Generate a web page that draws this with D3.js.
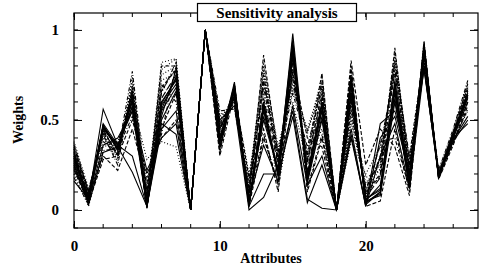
<!DOCTYPE html>
<html>
<head>
<meta charset="utf-8">
<script src="https://cdn.jsdelivr.net/npm/d3@7"></script>
<style>
  body { margin: 0; background: #fff; }
</style>
</head>
<body>
<svg id="chart" width="479" height="266"></svg>
<script>
// attribute index 0..27
const attributes = d3.range(28);

// one array per run of the sensitivity analysis
const run01 = [0.16,0.06,0.56,0.36,0.30,0.02,0.45,0.55,0.00,1.00,0.45,0.62,0.02,0.20,0.20,0.52,0.04,0.25,0.00,0.40,0.03,0.48,0.55,0.25,0.78,0.20,0.40,0.48];
const run02 = [0.25,0.03,0.32,0.35,0.21,0.02,0.48,0.42,0.00,1.00,0.50,0.58,0.00,0.07,0.25,0.55,0.06,0.01,0.00,0.45,0.02,0.40,0.52,0.20,0.80,0.18,0.38,0.50];
const run03 = [0.30,0.05,0.47,0.33,0.62,0.01,0.60,0.72,0.00,1.00,0.40,0.68,0.03,0.60,0.18,0.85,0.20,0.60,0.00,0.70,0.04,0.10,0.72,0.15,0.90,0.19,0.42,0.65];
const run04 = [0.28,0.08,0.46,0.34,0.58,0.03,0.55,0.68,0.00,1.00,0.35,0.66,0.05,0.50,0.22,0.92,0.15,0.50,0.00,0.65,0.06,0.12,0.65,0.12,0.88,0.18,0.40,0.62];
const run05 = [0.35,0.10,0.45,0.30,0.65,0.05,0.80,0.80,0.00,1.00,0.48,0.62,0.10,0.86,0.30,0.75,0.30,0.76,0.00,0.55,0.10,0.20,0.90,0.20,0.85,0.20,0.42,0.70];
const run06 = [0.38,0.12,0.40,0.28,0.72,0.08,0.82,0.84,0.00,1.00,0.52,0.58,0.15,0.80,0.35,0.70,0.45,0.70,0.00,0.50,0.15,0.25,0.86,0.25,0.82,0.21,0.44,0.68];
const run07 = [0.33,0.09,0.38,0.32,0.77,0.10,0.70,0.60,0.00,1.00,0.45,0.60,0.08,0.75,0.28,0.65,0.35,0.68,0.00,0.62,0.08,0.30,0.80,0.28,0.84,0.19,0.40,0.66];
const run08 = [0.22,0.04,0.28,0.30,0.50,0.20,0.40,0.50,0.00,1.00,0.32,0.70,0.02,0.40,0.15,0.95,0.10,0.40,0.00,0.80,0.02,0.05,0.45,0.10,0.92,0.17,0.36,0.58];
const run09 = [0.27,0.06,0.48,0.36,0.55,0.02,0.52,0.78,0.00,1.00,0.38,0.69,0.04,0.55,0.20,0.98,0.18,0.55,0.00,0.75,0.05,0.08,0.60,0.14,0.93,0.18,0.41,0.64];
const run10 = [0.20,0.02,0.35,0.38,0.60,0.28,0.38,0.35,0.00,1.00,0.42,0.64,0.20,0.65,0.12,0.60,0.25,0.45,0.00,0.38,0.20,0.35,0.75,0.22,0.80,0.20,0.39,0.55];
const run11 = [0.36,0.11,0.42,0.25,0.68,0.04,0.65,0.82,0.00,1.00,0.55,0.56,0.12,0.70,0.32,0.72,0.28,0.72,0.00,0.58,0.12,0.28,0.82,0.30,0.86,0.22,0.45,0.72];
const run12 = [0.32,0.07,0.44,0.37,0.63,0.06,0.62,0.75,0.00,1.00,0.44,0.67,0.06,0.62,0.25,0.82,0.22,0.62,0.00,0.68,0.07,0.18,0.70,0.18,0.89,0.19,0.43,0.63];
const run13 = [0.29,0.05,0.47,0.35,0.60,0.01,0.58,0.70,0.00,1.00,0.37,0.71,0.02,0.58,0.19,0.88,0.19,0.58,0.00,0.72,0.03,0.10,0.68,0.16,0.91,0.18,0.41,0.63];
const run14 = [0.24,0.07,0.30,0.22,0.45,0.15,0.45,0.65,0.00,1.00,0.30,0.65,0.18,0.45,0.10,0.80,0.40,0.35,0.00,0.83,0.25,0.45,0.35,0.08,0.87,0.20,0.37,0.60];
const run15 = [0.34,0.09,0.43,0.33,0.70,0.12,0.75,0.80,0.00,1.00,0.50,0.63,0.14,0.78,0.30,0.68,0.42,0.74,0.00,0.52,0.18,0.22,0.88,0.26,0.83,0.21,0.43,0.69];
const run16 = [0.18,0.03,0.33,0.34,0.52,0.18,0.42,0.80,0.00,1.00,0.36,0.70,0.05,0.42,0.14,0.90,0.12,0.42,0.00,0.78,0.04,0.38,0.40,0.12,0.94,0.17,0.38,0.56];
const run17 = [0.31,0.06,0.46,0.34,0.64,0.02,0.56,0.74,0.00,1.00,0.41,0.66,0.03,0.56,0.21,0.86,0.17,0.56,0.00,0.66,0.05,0.14,0.66,0.15,0.89,0.19,0.41,0.64];
const run18 = [0.37,0.10,0.41,0.27,0.74,0.07,0.78,0.84,0.00,1.00,0.53,0.57,0.16,0.82,0.33,0.66,0.44,0.66,0.00,0.48,0.14,0.26,0.84,0.24,0.81,0.22,0.44,0.71];
const run19 = [0.26,0.04,0.45,0.36,0.57,0.04,0.50,0.66,0.00,1.00,0.39,0.64,0.04,0.52,0.23,0.94,0.16,0.52,0.00,0.63,0.06,0.11,0.62,0.13,0.87,0.18,0.40,0.60];
const run20 = [0.32,0.08,0.44,0.31,0.66,0.06,0.68,0.78,0.00,1.00,0.46,0.61,0.09,0.72,0.27,0.78,0.26,0.66,0.00,0.60,0.09,0.19,0.78,0.19,0.86,0.20,0.42,0.67];
const run21 = [0.30,0.07,0.42,0.29,0.69,0.09,0.72,0.76,0.00,1.00,0.49,0.60,0.11,0.76,0.29,0.74,0.32,0.70,0.00,0.56,0.11,0.23,0.83,0.22,0.84,0.20,0.43,0.68];
const run22 = [0.29,0.06,0.47,0.34,0.61,0.02,0.59,0.73,0.00,1.00,0.38,0.68,0.03,0.59,0.20,0.90,0.18,0.59,0.00,0.73,0.04,0.09,0.70,0.14,0.92,0.18,0.41,0.64];
const run23 = [0.34,0.10,0.43,0.30,0.67,0.08,0.66,0.79,0.00,1.00,0.47,0.62,0.10,0.68,0.26,0.76,0.27,0.64,0.00,0.61,0.10,0.36,0.76,0.21,0.85,0.20,0.42,0.66];
const run24 = [0.23,0.05,0.36,0.40,0.55,0.22,0.40,0.48,0.00,1.00,0.34,0.69,0.06,0.36,0.16,0.58,0.14,0.30,0.00,0.42,0.02,0.30,0.48,0.12,0.79,0.19,0.39,0.52];

const runs = [run01, run02, run03, run04, run05, run06, run07, run08, run09, run10, run11, run12,
              run13, run14, run15, run16, run17, run18, run19, run20, run21, run22, run23, run24];
// line style for each run, same order
const dashes = ['none', 'none', 'none', 'none', '4,2', '1,2', '4,2,1,2', '4,2', 'none', '1,2', '4,2,1,2', '7,3',
                'none', '4,2', '1,2', '4,2,1,2', 'none', '1,2', 'none', '4,2', '1,2', 'none', '4,2,1,2', 'none'];

const xTicks = [0, 10, 20];
const yTicks = [0, 0.5, 1];

const FONT = '"Liberation Serif", "Times New Roman", serif';

const margin = { top: 13, right: 1, bottom: 38, left: 74 };
const W = 479, H = 266;
const width = W - margin.left - margin.right;
const height = H - margin.top - margin.bottom;

const svg = d3.select('#chart');
const g = svg.append('g').attr('transform', 'translate(' + margin.left + ',' + margin.top + ')');

const x = d3.scaleLinear().domain([0, 27.7]).range([0, width]);
const y = d3.scaleLinear().domain([-0.1, 1.094]).range([height, 0]);

// lines
const line = d3.line().x((d, i) => x(attributes[i])).y(d => y(d));
g.append('g').attr('class', 'runs')
    .selectAll('path').data(runs).enter().append('path')
    .attr('d', line)
    .attr('fill', 'none')
    .attr('stroke', '#000')
    .attr('stroke-width', 1.1)
    .attr('stroke-dasharray', (d, i) => dashes[i]);

// frame
g.append('rect').attr('width', width).attr('height', height)
    .attr('fill', 'none').attr('stroke', '#000').attr('stroke-width', 1.2);

// axes, ticks pointing inward
const xMinor = d3.range(0, 28, 2);
const yMinor = d3.range(-0.1, 1.09, 0.1).map(v => +v.toFixed(2));

const axisB = d3.axisBottom(x).tickValues(xTicks).tickSize(-7).tickPadding(12).tickFormat(d3.format('d'));
const axisT = d3.axisTop(x).tickValues(xTicks).tickSize(-7).tickFormat('');
const axisL = d3.axisLeft(y).tickValues(yTicks).tickSize(-8).tickPadding(15).tickFormat(d => d === 0.5 ? '0.5' : d3.format('d')(d));
const axisR = d3.axisRight(y).tickValues(yTicks).tickSize(-8).tickFormat('');

function styleAxis(sel) {
  sel.attr('font-family', null);
  sel.select('.domain').remove();
  sel.selectAll('line').attr('stroke', '#000').attr('stroke-width', 1);
  sel.selectAll('text').style('font-family', FONT).style('font-weight', 'bold')
      .style('font-size', '15px').attr('fill', '#000');
}

g.append('g').attr('transform', 'translate(0,' + height + ')').call(axisB).call(styleAxis);
g.append('g').call(axisT).call(styleAxis);
g.append('g').call(axisL).call(styleAxis);
g.append('g').attr('transform', 'translate(' + width + ',0)').call(axisR).call(styleAxis);

// minor ticks
const minor = g.append('g').attr('stroke', '#000').attr('stroke-width', 1);
xMinor.forEach(v => {
  minor.append('line').attr('x1', x(v)).attr('x2', x(v)).attr('y1', height).attr('y2', height - 4);
  minor.append('line').attr('x1', x(v)).attr('x2', x(v)).attr('y1', 0).attr('y2', 4);
});
yMinor.forEach(v => {
  minor.append('line').attr('y1', y(v)).attr('y2', y(v)).attr('x1', 0).attr('x2', 4);
  minor.append('line').attr('y1', y(v)).attr('y2', y(v)).attr('x1', width).attr('x2', width - 4);
});

// title box
const titleW = 159, titleH = 18;
const cx = margin.left + width / 2;
svg.append('rect').attr('x', cx - titleW / 2 + 1).attr('y', 3.5).attr('width', titleW).attr('height', titleH)
    .attr('fill', '#fff').attr('stroke', '#000').attr('stroke-width', 1.2);
svg.append('text').attr('x', cx + 1).attr('y', 17.5).attr('text-anchor', 'middle')
    .style('font-family', FONT).style('font-weight', 'bold')
    .style('font-size', '15px').text('Sensitivity analysis');

// axis titles
svg.append('text').attr('x', cx - 5).attr('y', 263).attr('text-anchor', 'middle')
    .style('font-family', FONT).style('font-weight', 'bold')
    .style('font-size', '14px').text('Attributes');
svg.append('text').attr('transform', 'translate(23,' + (margin.top + y(0.5)) + ') rotate(-90)')
    .attr('text-anchor', 'middle')
    .style('font-family', FONT).style('font-weight', 'bold')
    .style('font-size', '14px').text('Weights');
</script>
</body>
</html>
